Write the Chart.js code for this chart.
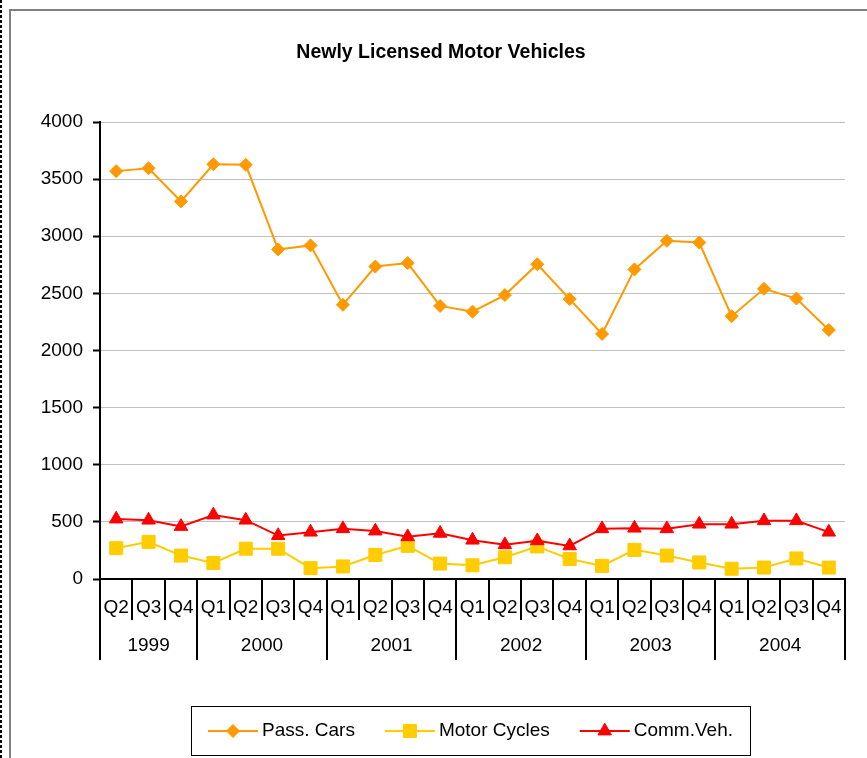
<!DOCTYPE html>
<html><head><meta charset="utf-8">
<script src="https://cdn.jsdelivr.net/npm/chart.js@4"></script>
<style>html,body{margin:0;padding:0;background:#fff;} canvas{position:absolute;left:0;top:0;}</style>
</head><body>
<canvas id="c" width="867" height="758"></canvas>
<script>
const quarters = ['Q2','Q3','Q4','Q1','Q2','Q3','Q4','Q1','Q2','Q3','Q4','Q1','Q2','Q3','Q4','Q1','Q2','Q3','Q4','Q1','Q2','Q3','Q4'];
const years = ['1999','2000','2001','2002','2003','2004'];
const quartersPerYear = [3,4,4,4,4,4];
const passCars = [3570,3595,3305,3630,3625,2885,2920,2400,2735,2765,2390,2340,2485,2755,2450,2145,2710,2960,2945,2300,2540,2455,2180];
const motorCycles = [270,325,205,140,265,265,95,110,210,290,135,120,190,285,175,115,255,205,145,90,100,180,100];
const commVeh = [525,515,460,560,515,380,410,440,420,370,400,340,300,335,290,440,445,440,480,480,510,510,410];
const seriesLabels = ['Pass. Cars','Motor Cycles','Comm.Veh.'];
const yMin = 0, yMax = 4000, yStep = 500;
const titleText = 'Newly Licensed Motor Vehicles';

const FONT = "'Liberation Sans', Arial, sans-serif";

const decor = {
  id: 'decor',
  beforeDraw(chart) {
    const ctx = chart.ctx;
    ctx.save();
    ctx.fillStyle = '#fff'; ctx.fillRect(0, 0, chart.width, chart.height);
    ctx.strokeStyle = '#000'; ctx.lineWidth = 2; ctx.setLineDash([3, 2]);
    ctx.beginPath(); ctx.moveTo(1, 0); ctx.lineTo(1, chart.height); ctx.stroke();
    ctx.setLineDash([]);
    ctx.strokeStyle = '#808080'; ctx.lineWidth = 2;
    ctx.beginPath(); ctx.moveTo(10, chart.height); ctx.lineTo(10, 10); ctx.lineTo(chart.width, 10); ctx.stroke();
    ctx.restore();
  },
  afterDraw(chart) {
    const ctx = chart.ctx, x = chart.scales.x, ca = chart.chartArea;
    const step = x.getPixelForValue(1) - x.getPixelForValue(0);
    ctx.save();
    ctx.strokeStyle = '#000'; ctx.lineWidth = 2;
    const yearBounds = new Set([0]);
    let acc = 0;
    quartersPerYear.forEach(n => { acc += n; yearBounds.add(acc); });
    for (let i = 0; i <= quarters.length; i++) {
      const px = Math.round(x.getPixelForValue(i) - step / 2);
      const len = yearBounds.has(i) ? 81 : 41;
      ctx.beginPath(); ctx.moveTo(px, ca.bottom); ctx.lineTo(px, ca.bottom + len); ctx.stroke();
    }
    ctx.fillStyle = '#000'; ctx.font = '19px ' + FONT; ctx.textAlign = 'center'; ctx.textBaseline = 'middle';
    let start = 0;
    years.forEach((yr, k) => {
      const end = start + quartersPerYear[k] - 1;
      const cx = (x.getPixelForValue(start) + x.getPixelForValue(end)) / 2;
      ctx.fillText(yr, cx, ca.bottom + 67);
      start = end + 1;
    });
    // legend
    const items = chart.data.datasets.map(ds => ({label: ds.label, color: ds.borderColor, style: ds.pointStyle, r: ds.pointRadius}));
    ctx.font = '19px ' + FONT;
    const lineLen = 50, gapText = 4, gapItem = 30;
    const widths = items.map(it => lineLen + gapText + ctx.measureText(it.label).width);
    const total = widths.reduce((a, b) => a + b, 0) + gapItem * (items.length - 1);
    const box = {l: 191, t: 706, r: 750, b: 755};
    ctx.strokeStyle = '#000'; ctx.lineWidth = 1;
    ctx.strokeRect(box.l + 0.5, box.t + 0.5, box.r - box.l, box.b - box.t);
    let lx = (box.l + box.r) / 2 - total / 2;
    const cy = 731;
    items.forEach((it, i) => {
      ctx.strokeStyle = it.color; ctx.lineWidth = 2;
      ctx.beginPath(); ctx.moveTo(lx, cy); ctx.lineTo(lx + lineLen, cy); ctx.stroke();
      ctx.fillStyle = it.color; ctx.lineWidth = 1;
      Chart.helpers.drawPoint(ctx, {pointStyle: it.style, radius: it.r, borderWidth: 1, rotation: 0}, lx + lineLen / 2, cy);
      ctx.fillStyle = '#000'; ctx.textAlign = 'left'; ctx.textBaseline = 'middle';
      ctx.fillText(it.label, lx + lineLen + gapText, cy);
      lx += widths[i] + gapItem;
    });
    ctx.restore();
  }
};

function mk(label, data, color, style, r, order) {
  return {label, data, borderColor: color, backgroundColor: color, pointBackgroundColor: color, pointBorderColor: color,
    pointStyle: style, pointRadius: r, pointBorderWidth: 1, borderWidth: 2, tension: 0, fill: false, order};
}

new Chart(document.getElementById('c'), {
  type: 'line',
  data: {
    labels: quarters,
    datasets: [
      mk(seriesLabels[0], passCars, '#FF9900', 'rectRot', 6.5, 3),
      mk(seriesLabels[1], motorCycles, '#FFCC00', 'rect', 9.2, 2),
      mk(seriesLabels[2], commVeh, '#FF0000', 'triangle', 7.8, 1)
    ]
  },
  options: {
    responsive: false, animation: false, devicePixelRatio: 1, events: [],
    layout: {padding: {left: 37, right: 22, top: 0, bottom: 0}},
    plugins: {
      legend: {display: false}, tooltip: {enabled: false},
      title: {display: true, text: titleText, color: '#000', font: {family: FONT, size: 19.5, weight: 'bold', lineHeight: 1.2}, padding: {top: 41.3, bottom: 57.3}}
    },
    scales: {
      x: {
        offset: true,
        grid: {display: true, offset: true, drawOnChartArea: false, drawTicks: false},
        border: {display: true, color: '#000', width: 2},
        ticks: {color: '#000', font: {family: FONT, size: 19}, padding: 17, maxRotation: 0, autoSkip: false},
        afterFit(s) { s.height = 179; }
      },
      y: {
        min: yMin, max: yMax,
        ticks: {stepSize: yStep, color: '#000', font: {family: FONT, size: 19}, padding: 10, callback: v => String(v)},
        grid: {color: '#c0c0c0', lineWidth: 1, tickLength: 7, tickColor: '#000', tickWidth: 2},
        border: {color: '#000', width: 2},
        afterFit(s) { s.width = 63; }
      }
    }
  },
  plugins: [decor]
});
</script>
</body></html>
